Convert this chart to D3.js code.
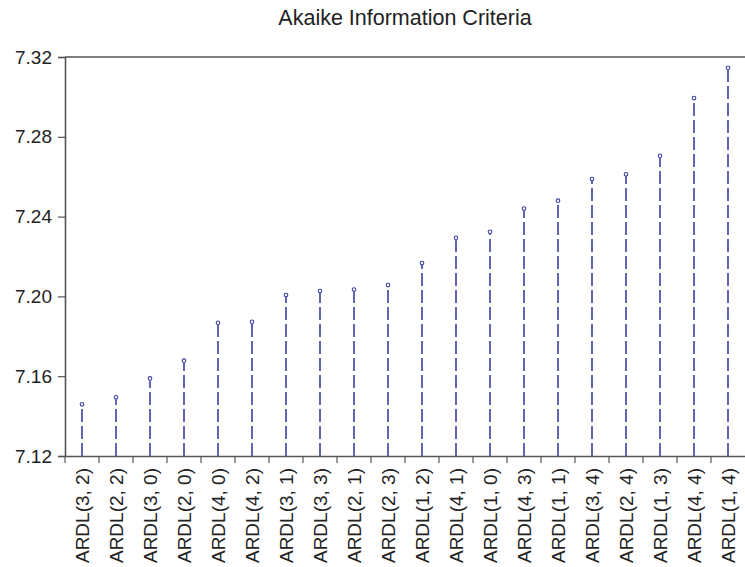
<!DOCTYPE html>
<html lang="en">
<head>
  <meta charset="UTF-8">
  <title>Akaike Information Criteria</title>
  <script src="https://d3js.org/d3.v7.min.js"></script>
  <style>
    body {
      margin: 0;
      background-color: #ffffff;
      overflow: hidden;
    }
    svg text {
      font-family: "Liberation Sans", Arial, sans-serif;
      fill: #222222;
    }
  </style>
</head>
<body>
  <svg id="chart" width="745" height="567"></svg>

  <script>
    // model labels and AIC values, sorted ascending as in the picture
    const models = [
      "ARDL(3, 2)", "ARDL(2, 2)", "ARDL(3, 0)", "ARDL(2, 0)", "ARDL(4, 0)",
      "ARDL(4, 2)", "ARDL(3, 1)", "ARDL(3, 3)", "ARDL(2, 1)", "ARDL(2, 3)",
      "ARDL(1, 2)", "ARDL(4, 1)", "ARDL(1, 0)", "ARDL(4, 3)", "ARDL(1, 1)",
      "ARDL(3, 4)", "ARDL(2, 4)", "ARDL(1, 3)", "ARDL(4, 4)", "ARDL(1, 4)"
    ];
    const aic = [
      7.1459, 7.1494, 7.1589, 7.1678, 7.1868,
      7.1873, 7.2007, 7.2027, 7.2034, 7.2057,
      7.2167, 7.2294, 7.2324, 7.2440, 7.2480,
      7.2588, 7.2612, 7.2705, 7.2994, 7.3146
    ];
    const yTicks = [7.12, 7.16, 7.20, 7.24, 7.28, 7.32];

    const svg = d3.select("#chart");
    const margin = { top: 57, right: 0, bottom: 111, left: 65 };
    const width = 745 - margin.left - margin.right;
    const height = 567 - margin.top - margin.bottom;

    const g = svg.append("g")
      .attr("transform", `translate(${margin.left},${margin.top})`);

    const x = d3.scaleBand()
      .domain(models)
      .range([0, width])
      .padding(0);

    const y = d3.scaleLinear()
      .domain([7.12, 7.32])
      .range([height, 0]);

    const axisColor = "#555555";
    const stemColor = "#3b3fa3";

    // title
    svg.append("text")
      .attr("x", margin.left + width / 2)
      .attr("y", 25)
      .attr("text-anchor", "middle")
      .style("font-size", "21.5px")
      .text("Akaike Information Criteria");

    // stems
    g.selectAll("line.stem")
      .data(aic)
      .enter()
      .append("line")
      .attr("class", "stem")
      .attr("x1", (d, i) => x(models[i]) + x.bandwidth() / 2)
      .attr("x2", (d, i) => x(models[i]) + x.bandwidth() / 2)
      .attr("y1", height)
      .attr("y2", d => y(d) + 2)
      .attr("stroke", stemColor)
      .attr("stroke-width", 1.6)
      .attr("stroke-dasharray", "13,4");

    // markers
    g.selectAll("circle.pt")
      .data(aic)
      .enter()
      .append("circle")
      .attr("class", "pt")
      .attr("cx", (d, i) => x(models[i]) + x.bandwidth() / 2)
      .attr("cy", d => y(d))
      .attr("r", 1.8)
      .attr("fill", "#ffffff")
      .attr("stroke", stemColor)
      .attr("stroke-width", 1.1);

    // frame (top + right off-canvas)
    g.append("line")
      .attr("x1", 0).attr("x2", width + 2)
      .attr("y1", 0).attr("y2", 0)
      .attr("stroke", axisColor)
      .attr("stroke-width", 1.6);

    // y axis
    const yAxis = g.append("g")
      .call(d3.axisLeft(y)
        .tickValues(yTicks)
        .tickFormat(d3.format(".2f"))
        .tickSize(7)
        .tickPadding(6));
    yAxis.select(".domain").attr("stroke", axisColor).attr("stroke-width", 1.6);
    yAxis.selectAll(".tick line").attr("stroke", axisColor).attr("stroke-width", 1.2);
    yAxis.selectAll("text").style("font-size", "19px").attr("fill", "#222");

    // x axis with ticks at category boundaries
    const xAxis = g.append("g")
      .attr("transform", `translate(0,${height})`)
      .call(d3.axisBottom(x).tickSize(0).tickPadding(0));
    xAxis.select(".domain").attr("stroke", axisColor).attr("stroke-width", 1.6);
    xAxis.selectAll("text")
      .style("font-size", "19px")
      .attr("fill", "#222")
      .attr("transform", "rotate(-90)")
      .attr("text-anchor", "end")
      .attr("x", -12)
      .attr("y", 0)
      .attr("dy", "0.35em");

    xAxis.selectAll("line.bound")
      .data(models.slice(1))
      .enter()
      .append("line")
      .attr("class", "bound")
      .attr("x1", d => x(d))
      .attr("x2", d => x(d))
      .attr("y1", 0)
      .attr("y2", 7)
      .attr("stroke", axisColor)
      .attr("stroke-width", 1.2);
    xAxis.append("line")
      .attr("x1", 0).attr("x2", 0)
      .attr("y1", 0).attr("y2", 7)
      .attr("stroke", axisColor)
      .attr("stroke-width", 1.2);
  </script>
</body>
</html>
